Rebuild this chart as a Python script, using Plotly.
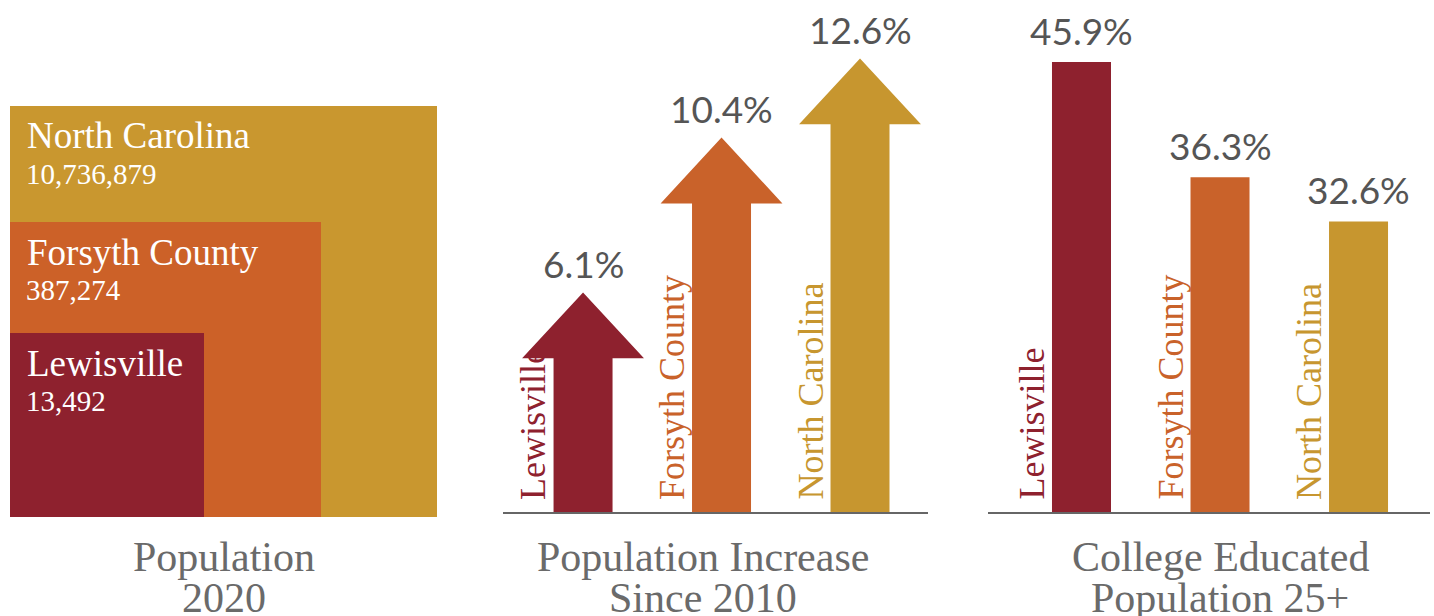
import plotly.graph_objects as go

# ---------------- data ----------------
places = ["Lewisville", "Forsyth County", "North Carolina"]
population_2020 = [13492, 387274, 10736879]
pop_increase_pct = [6.1, 10.4, 12.6]
college_pct = [45.9, 36.3, 32.6]

# ---------------- style ----------------
colors = ["#8E212E", "#C9622A", "#C7962F"]
sq_colors = ["#8E212E", "#CC6128", "#C9972F"]
W, H = 1434, 616
SERIF = "Liberation Serif, DejaVu Serif, serif"
SANS = "Lato, Open Sans, sans-serif"
TITLE_COLOR = "#6A6A6A"
NUM_COLOR = "#555555"

def px_x(p):
    return p / W

def px_y(p):
    return 1 - p / H

fig = go.Figure()

# ---------- panel 1: nested squares (decorative sizes) ----------
SQ_LEFT, SQ_BOTTOM = 10, 517
sq_sizes = [(194, 184), (311, 295), (427, 411)]  # layout sizes (not to scale)
for i in [2, 1, 0]:
    w, h = sq_sizes[i]
    fig.add_shape(type="rect", xref="paper", yref="paper",
                  x0=px_x(SQ_LEFT), x1=px_x(SQ_LEFT + w),
                  y0=px_y(SQ_BOTTOM), y1=px_y(SQ_BOTTOM - h),
                  fillcolor=sq_colors[i], line_width=0, layer="below")
    top = SQ_BOTTOM - h
    fig.add_annotation(xref="paper", yref="paper", x=px_x(25), y=px_y(top + 30),
                       text=places[i], showarrow=False, xanchor="left", yanchor="middle",
                       font=dict(family=SERIF, size=37, color="white"))
    fig.add_annotation(xref="paper", yref="paper", x=px_x(24), y=px_y(top + 68),
                       text=f"{population_2020[i]:,}", showarrow=False, xanchor="left",
                       yanchor="middle", font=dict(family=SERIF, size=29, color="white"))

# ---------- panel 2: arrows ----------
SHAFT_HALF = 0.213
HEAD_HALF = 0.44
HEAD_H = 1.83
for i, v in enumerate(pop_increase_pct):
    xs = [i - SHAFT_HALF, i - SHAFT_HALF, i - HEAD_HALF, i, i + HEAD_HALF,
          i + SHAFT_HALF, i + SHAFT_HALF, i - SHAFT_HALF]
    ys = [0, v - HEAD_H, v - HEAD_H, v, v - HEAD_H, v - HEAD_H, 0, 0]
    fig.add_trace(go.Scatter(x=xs, y=ys, fill="toself", fillcolor=colors[i],
                             mode="lines", line=dict(width=0, color=colors[i]),
                             xaxis="x2", yaxis="y2", hoverinfo="skip", showlegend=False))
    fig.add_annotation(xref="x2", yref="y2", x=i, y=v, yshift=29, text=f"{v}%",
                       showarrow=False, xanchor="center", yanchor="middle",
                       font=dict(family=SANS, size=37, color=NUM_COLOR))
    fig.add_annotation(xref="x2", yref="y2", x=i, y=0, yshift=10, xshift=-50,
                       text=places[i], textangle=-90, showarrow=False,
                       xanchor="center", yanchor="bottom",
                       font=dict(family=SERIF, size=36, color=colors[i]))

# ---------- panel 3: bars ----------
fig.add_trace(go.Bar(x=[0, 1, 2], y=college_pct, width=0.426,
                     marker=dict(color=colors, line_width=0),
                     xaxis="x3", yaxis="y3", hoverinfo="skip", showlegend=False))
for i, v in enumerate(college_pct):
    fig.add_annotation(xref="x3", yref="y3", x=i, y=v, yshift=32, text=f"{v}%",
                       showarrow=False, xanchor="center", yanchor="middle",
                       font=dict(family=SANS, size=37, color=NUM_COLOR))
    fig.add_annotation(xref="x3", yref="y3", x=i, y=8.4, yshift=10, xshift=-50,
                       text=places[i], textangle=-90, showarrow=False,
                       xanchor="center", yanchor="bottom",
                       font=dict(family=SERIF, size=36, color=colors[i]))

# ---------- titles ----------
titles = [
    (224, ["Population", "2020"]),
    (703, ["Population Increase", "Since 2010"]),
    (1220, ["College Educated", "Population 25+"]),
]
for cx, lines in titles:
    for j, t in enumerate(lines):
        fig.add_annotation(xref="paper", yref="paper", x=px_x(cx), y=px_y(557 + 41 * j),
                           text=t, showarrow=False, xanchor="center", yanchor="middle",
                           font=dict(family=SERIF, size=42, color=TITLE_COLOR))

base_y_dom = [(H - 512) / H, 1]
hidden = dict(showgrid=False, zeroline=False, showticklabels=False, ticks="", fixedrange=True)
fig.update_layout(
    width=W, height=H, margin=dict(l=0, r=0, t=0, b=0),
    paper_bgcolor="white", plot_bgcolor="white", showlegend=False,
    xaxis=dict(visible=False, domain=[0, 0.01]),
    yaxis=dict(visible=False, domain=[0, 0.01]),
    xaxis2=dict(domain=[503 / W, 928 / W], range=[-0.578, 2.491], anchor="y2",
                showline=True, linecolor="#666666", linewidth=2, **hidden),
    yaxis2=dict(domain=base_y_dom, range=[0, 512 / 36], anchor="x2", visible=False),
    xaxis3=dict(domain=[988 / W, 1430 / W], range=[-0.675, 2.516], anchor="y3",
                showline=True, linecolor="#666666", linewidth=2, **hidden),
    yaxis3=dict(domain=base_y_dom, range=[8.4, 8.4 + 512 / 12], anchor="x3", visible=False),
)

fig.write_html("out.html", config={"displayModeBar": False},
               post_script="document.body.style.margin='0';document.body.style.overflow='hidden';")
